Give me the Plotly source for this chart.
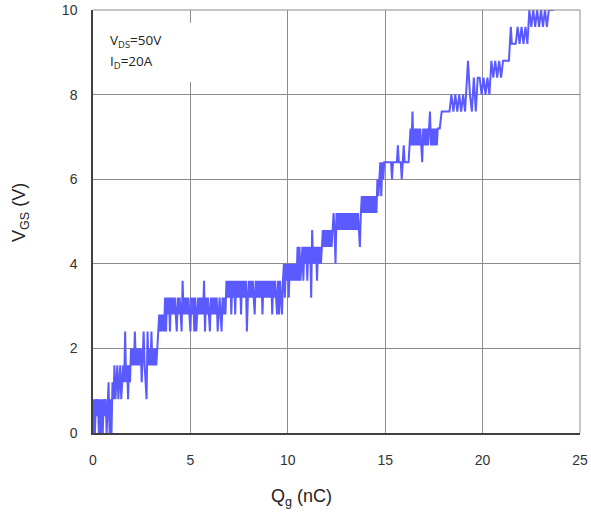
import plotly.graph_objects as go

# Gate charge Qg (nC) samples
qg_nc = [
    0.00, 0.05, 0.10, 0.15, 0.20, 0.25, 0.30, 0.35, 0.40, 0.45,
    0.50, 0.55, 0.60, 0.65, 0.70, 0.75, 0.80, 0.85, 0.90, 0.95,
    1.00, 1.05, 1.10, 1.15, 1.20, 1.25, 1.30, 1.35, 1.40, 1.45,
    1.50, 1.55, 1.60, 1.65, 1.70, 1.75, 1.80, 1.85, 1.90, 1.95,
    2.00, 2.05, 2.10, 2.15, 2.20, 2.25, 2.30, 2.35, 2.40, 2.45,
    2.50, 2.55, 2.60, 2.65, 2.70, 2.75, 2.80, 2.85, 2.90, 2.95,
    3.00, 3.05, 3.10, 3.15, 3.20, 3.25, 3.30, 3.35, 3.40, 3.45,
    3.50, 3.55, 3.60, 3.65, 3.70, 3.75, 3.80, 3.85, 3.90, 3.95,
    4.00, 4.05, 4.10, 4.15, 4.20, 4.25, 4.30, 4.35, 4.40, 4.45,
    4.50, 4.55, 4.60, 4.65, 4.70, 4.75, 4.80, 4.85, 4.90, 4.95,
    5.00, 5.05, 5.10, 5.15, 5.20, 5.25, 5.30, 5.35, 5.40, 5.45,
    5.50, 5.55, 5.60, 5.65, 5.70, 5.75, 5.80, 5.85, 5.90, 5.95,
    6.00, 6.05, 6.10, 6.15, 6.20, 6.25, 6.30, 6.35, 6.40, 6.45,
    6.50, 6.55, 6.60, 6.65, 6.70, 6.75, 6.80, 6.85, 6.90, 6.95,
    7.00, 7.05, 7.10, 7.15, 7.20, 7.25, 7.30, 7.35, 7.40, 7.45,
    7.50, 7.55, 7.60, 7.65, 7.70, 7.75, 7.80, 7.85, 7.90, 7.95,
    8.00, 8.05, 8.10, 8.15, 8.20, 8.25, 8.30, 8.35, 8.40, 8.45,
    8.50, 8.55, 8.60, 8.65, 8.70, 8.75, 8.80, 8.85, 8.90, 8.95,
    9.00, 9.05, 9.10, 9.15, 9.20, 9.25, 9.30, 9.35, 9.40, 9.45,
    9.50, 9.55, 9.60, 9.65, 9.70, 9.75, 9.80, 9.85, 9.90, 9.95,
    10.00, 10.05, 10.10, 10.15, 10.20, 10.25, 10.30, 10.35, 10.40, 10.45,
    10.50, 10.55, 10.60, 10.65, 10.70, 10.75, 10.80, 10.85, 10.90, 10.95,
    11.00, 11.05, 11.10, 11.15, 11.20, 11.25, 11.30, 11.35, 11.40, 11.45,
    11.50, 11.55, 11.60, 11.65, 11.70, 11.75, 11.80, 11.85, 11.90, 11.95,
    12.00, 12.05, 12.10, 12.15, 12.20, 12.25, 12.30, 12.35, 12.40, 12.45,
    12.50, 12.55, 12.60, 12.65, 12.70, 12.75, 12.80, 12.85, 12.90, 12.95,
    13.00, 13.05, 13.10, 13.15, 13.20, 13.25, 13.30, 13.35, 13.40, 13.45,
    13.50, 13.55, 13.60, 13.65, 13.70, 13.75, 13.80, 13.85, 13.90, 13.95,
    14.00, 14.05, 14.10, 14.15, 14.20, 14.25, 14.30, 14.35, 14.40, 14.45,
    14.50, 14.55, 14.60, 14.65, 14.70, 14.75, 14.80, 14.85, 14.90, 14.95,
    15.00, 15.10, 15.20, 15.30, 15.35, 15.40, 15.50, 15.60, 15.65, 15.70,
    15.80, 15.85, 15.90, 15.95, 16.00, 16.10, 16.20, 16.25, 16.30, 16.35,
    16.40, 16.45, 16.50, 16.55, 16.60, 16.65, 16.70, 16.75, 16.80, 16.85,
    16.90, 16.95, 17.00, 17.05, 17.10, 17.15, 17.20, 17.25, 17.30, 17.35,
    17.40, 17.45, 17.50, 17.55, 17.60, 17.65, 17.70, 17.80, 17.90, 18.00,
    18.10, 18.20, 18.30, 18.40, 18.50, 18.60, 18.70, 18.80, 18.90, 19.00,
    19.10, 19.25, 19.35, 19.45, 19.55, 19.65, 19.75, 19.85, 19.95, 20.05,
    20.15, 20.25, 20.35, 20.45, 20.55, 20.65, 20.75, 20.85, 20.95, 21.05,
    21.15, 21.25, 21.35, 21.45, 21.50, 21.60, 21.70, 21.80, 21.90, 22.00,
    22.10, 22.20, 22.30, 22.40, 22.50, 22.60, 22.70, 22.80, 22.90, 23.00,
    23.10, 23.20, 23.30, 23.40, 23.50, 23.60, 23.70, 24.40, 24.50, 24.60,
]

# Gate-source voltage VGS (V) samples
vgs_v = [
    0.0, 0.8, 0.0, 0.8, 0.4, 0.8, 0.0, 0.8, 0.0, 0.8,
    0.0, 0.8, 0.4, 0.8, 0.0, 0.8, 1.2, 0.0, 0.8, 0.0,
    1.2, 0.8, 1.6, 0.8, 1.2, 1.6, 0.8, 1.2, 1.6, 0.8,
    1.2, 1.6, 1.2, 2.4, 1.2, 1.6, 0.8, 1.6, 1.2, 2.0,
    1.6, 2.0, 1.6, 2.4, 1.6, 2.0, 1.6, 2.0, 1.6, 2.0,
    1.2, 2.0, 2.4, 1.6, 1.2, 0.8, 2.4, 1.6, 2.0, 1.6,
    2.4, 1.6, 2.0, 1.6, 2.0, 1.6, 2.0, 2.4, 2.8, 2.4,
    2.8, 2.4, 2.8, 2.4, 3.2, 2.4, 3.2, 2.8, 3.2, 2.4,
    3.2, 2.8, 3.2, 2.8, 3.2, 2.8, 2.4, 3.2, 2.8, 3.2,
    2.8, 2.4, 3.6, 2.8, 3.2, 2.8, 3.2, 2.8, 3.2, 2.8,
    2.4, 3.2, 2.8, 3.2, 2.4, 3.2, 2.4, 2.8, 3.2, 2.8,
    3.2, 2.8, 3.2, 2.8, 3.6, 2.4, 3.2, 2.8, 3.2, 2.8,
    2.4, 3.2, 2.8, 3.2, 2.8, 3.2, 2.8, 3.2, 2.4, 2.8,
    3.2, 2.8, 2.4, 3.2, 2.8, 3.2, 2.8, 3.6, 3.2, 3.6,
    3.2, 3.6, 2.8, 3.6, 3.2, 3.6, 2.8, 3.6, 3.2, 3.6,
    3.2, 3.6, 2.8, 3.6, 3.2, 3.6, 3.2, 3.6, 2.4, 3.2,
    3.6, 3.2, 3.6, 3.2, 3.6, 3.2, 2.8, 3.6, 3.2, 3.6,
    3.2, 3.6, 3.2, 3.6, 2.8, 3.6, 3.2, 3.6, 3.2, 3.6,
    3.2, 3.6, 3.2, 3.6, 2.8, 3.6, 3.2, 3.6, 3.2, 2.8,
    3.6, 2.8, 3.6, 3.2, 2.8, 3.6, 4.0, 3.2, 4.0, 3.6,
    4.0, 3.2, 4.0, 3.6, 4.0, 3.6, 4.0, 3.6, 4.0, 3.6,
    4.4, 3.6, 4.4, 3.6, 4.0, 4.4, 3.6, 4.4, 4.0, 4.4,
    3.6, 4.4, 4.0, 4.4, 3.2, 4.8, 4.0, 4.4, 4.0, 4.4,
    3.6, 4.4, 4.0, 4.4, 4.0, 4.4, 4.8, 4.4, 4.8, 4.4,
    4.8, 4.4, 4.8, 4.4, 4.8, 4.4, 4.8, 5.2, 4.8, 4.0,
    5.2, 4.8, 5.2, 4.8, 5.2, 4.8, 5.2, 4.8, 5.2, 4.8,
    5.2, 4.8, 5.2, 4.8, 5.2, 4.8, 5.2, 4.8, 5.2, 4.8,
    5.2, 4.8, 5.2, 4.8, 4.4, 5.2, 5.6, 5.2, 5.6, 5.2,
    5.6, 5.2, 5.6, 5.2, 5.6, 5.2, 5.6, 5.2, 5.6, 5.2,
    5.6, 5.2, 6.0, 5.6, 6.0, 6.4, 5.6, 6.4, 6.0, 6.4,
    6.4, 6.4, 6.4, 6.4, 6.0, 6.4, 6.4, 6.4, 6.8, 6.4,
    6.4, 6.0, 6.4, 6.8, 6.4, 6.4, 6.4, 6.8, 7.2, 6.8,
    7.6, 6.8, 7.2, 6.8, 7.2, 6.8, 7.2, 6.8, 7.2, 6.8,
    6.4, 7.2, 6.8, 7.2, 6.8, 7.2, 6.8, 7.2, 7.6, 6.8,
    7.2, 6.8, 7.2, 6.8, 7.2, 6.8, 7.2, 7.2, 7.6, 7.6,
    7.6, 7.6, 7.6, 8.0, 7.6, 8.0, 7.6, 8.0, 7.6, 8.0,
    7.6, 8.8, 8.0, 7.6, 8.4, 7.6, 8.4, 8.4, 8.0, 8.4,
    8.0, 8.4, 8.0, 8.8, 8.4, 8.8, 8.4, 8.8, 8.4, 8.8,
    8.8, 8.8, 8.8, 9.6, 9.2, 9.2, 9.2, 9.6, 9.2, 9.6,
    9.2, 9.6, 9.2, 10.0, 9.6, 10.0, 9.6, 10.0, 9.6, 10.0,
    9.6, 10.0, 9.6, 10.0, 10.0, 10.0, 10.4, 10.4, 10.0, 10.4,
]

x_ticks = [0, 5, 10, 15, 20, 25]
y_ticks = [0, 2, 4, 6, 8, 10]

fig = go.Figure()
fig.add_trace(go.Scatter(
    x=qg_nc, y=vgs_v, mode="lines",
    line=dict(color="#5a5aff", width=2),
    showlegend=False, hoverinfo="skip",
))

grid_col = "#8c8c8c"
axis_common = dict(
    showgrid=True, gridcolor=grid_col, gridwidth=1, automargin=False,
    zeroline=False, showline=True, linecolor="#404040", linewidth=1.5,
    ticks="", ticklabeloverflow="allow",
    tickfont=dict(family="Liberation Sans, Arial", size=14, color="#333333"),
)

fig.update_layout(
    width=591, height=517,
    margin=dict(l=93, r=11, t=10, b=84),
    paper_bgcolor="white", plot_bgcolor="white",
    xaxis=dict(range=[0, 25], tickvals=x_ticks, ticklabelstandoff=13, **axis_common),
    yaxis=dict(range=[0, 10], tickvals=y_ticks, ticklabelstandoff=11, **axis_common),
    shapes=[
        dict(type="rect", xref="x", yref="y", x0=0.05, x1=5.4, y0=8.3, y1=9.7,
             fillcolor="white", line=dict(width=0), layer="between"),
        dict(type="line", xref="paper", yref="paper", x0=1, x1=1, y0=0, y1=1,
             line=dict(color=grid_col, width=1)),
        dict(type="line", xref="paper", yref="paper", x0=0, x1=1, y0=1, y1=1,
             line=dict(color=grid_col, width=1)),
    ],
    annotations=[
        dict(text="V<sub>DS</sub>=50V", xref="paper", yref="paper",
             x=(108 - 93) / 487, y=(433 - 29) / 423, xanchor="left", yanchor="top",
             showarrow=False, font=dict(family="Open Sans", size=13.5, color="#222222")),
        dict(text="I<sub>D</sub>=20A", xref="paper", yref="paper",
             x=(108 - 93) / 487, y=(433 - 50) / 423, xanchor="left", yanchor="top",
             showarrow=False, font=dict(family="Open Sans", size=13.5, color="#222222")),
        dict(text="Q<sub>g</sub> (nC)", xref="paper", yref="paper",
             x=(301 - 93) / 487, y=(433 - 497) / 423, xanchor="center", yanchor="middle",
             showarrow=False, font=dict(family="Liberation Sans, Arial", size=18, color="#222222")),
        dict(text="V<sub>GS</sub> (V)", xref="paper", yref="paper",
             x=(20 - 93) / 487, y=(433 - 213) / 423, xanchor="center", yanchor="middle",
             textangle=-90, showarrow=False,
             font=dict(family="Liberation Sans, Arial", size=18, color="#222222")),
    ],
)

fig.write_html(
    "out.html",
    config={"displayModeBar": False},
    post_script="document.body.style.margin='0';document.documentElement.style.overflow='hidden';",
)
